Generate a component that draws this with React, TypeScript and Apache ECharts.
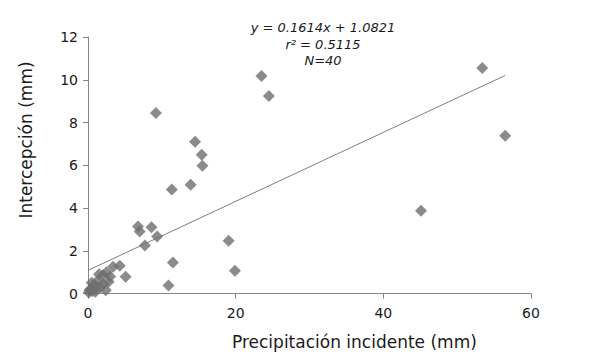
import React, { useEffect, useRef } from "react";
import * as echarts from "echarts";

const precipitation = [
  53.4, 56.5, 45.1, 23.5, 24.5, 9.2, 14.5, 15.4, 15.5, 13.9,
  11.35, 19.05, 19.9, 11.5, 10.9, 6.77, 7.0, 8.6, 9.36, 7.7,
  5.1, 4.3, 3.4, 2.5, 2.0, 1.3, 2.8, 0.8, 0.35, 2.4,
  0.1, 1.0, 1.7, 0.5, 1.5, 3.0, 0.2, 1.2, 0.6, 2.1,
];
const interception = [
  10.55, 7.38, 3.87, 10.18, 9.24, 8.45, 7.1, 6.49, 5.98, 5.09,
  4.86, 2.47, 1.07, 1.45, 0.37, 3.14, 2.9, 3.1, 2.67, 2.24,
  0.78, 1.3, 1.25, 1.0, 0.85, 0.6, 0.55, 0.4, 0.2, 0.15,
  0.05, 0.08, 0.3, 0.5, 0.9, 0.8, 0.15, 0.3, 0.1, 0.45,
];
const slope = 0.1614;
const intercept = 1.0821;
const equationLines = ["y = 0.1614x + 1.0821", "r² = 0.5115", "N=40"];
const xTitle = "Precipitación incidente (mm)";
const yTitle = "Intercepción (mm)";

const FONT = "'DejaVu Sans', Verdana, sans-serif";

export default function App() {
  const ref = useRef<HTMLDivElement>(null);
  useEffect(() => {
    if (!ref.current) return;
    const chart = echarts.init(ref.current, undefined, { renderer: "svg" });
    const points = precipitation.map((x, i) => [x, interception[i]]);
    const xMax = Math.max(...precipitation);
    chart.setOption({
      animation: false,
      backgroundColor: "#ffffff",
      grid: { left: 88, right: 70, top: 37, bottom: 67.5 },
      xAxis: {
        type: "value",
        min: 0,
        max: 60,
        interval: 20,
        splitLine: { show: false },
        axisLine: { show: true, onZero: false, lineStyle: { color: "#868686", width: 1 } },
        axisTick: { show: true, length: 5, lineStyle: { color: "#868686" } },
        axisLabel: { color: "#1a1a1a", fontSize: 14, fontFamily: FONT, margin: 12 },
      },
      yAxis: {
        type: "value",
        min: 0,
        max: 12,
        interval: 2,
        splitLine: { show: false },
        axisLine: { show: true, onZero: false, lineStyle: { color: "#868686", width: 1 } },
        axisTick: { show: true, length: 5, lineStyle: { color: "#868686" } },
        axisLabel: { color: "#1a1a1a", fontSize: 14, fontFamily: FONT, margin: 10 },
      },
      series: [
        {
          type: "line",
          data: [
            [0, intercept],
            [xMax, slope * xMax + intercept],
          ],
          symbol: "none",
          lineStyle: { color: "#7f7f7f", width: 1 },
          z: 1,
        },
        {
          type: "scatter",
          data: points,
          symbol: "diamond",
          symbolSize: 12,
          itemStyle: { color: "#6e6e6e" },
          z: 2,
        },
      ],
      graphic: [
        {
          type: "text",
          left: 355 - 123,
          top: 333,
          style: { text: xTitle, fontSize: 17, fontFamily: FONT, fill: "#1a1a1a" },
        },
        {
          type: "text",
          x: 26,
          y: 140,
          rotation: Math.PI / 2,
          style: {
            text: yTitle,
            fontSize: 17,
            fontFamily: FONT,
            fill: "#1a1a1a",
            align: "center",
            verticalAlign: "middle",
          },
        },
        ...equationLines.map((t, i) => ({
          type: "text",
          x: 323,
          y: [27, 44, 60][i],
          style: {
            text: t,
            fontSize: 13,
            fontStyle: "italic",
            fontFamily: FONT,
            fill: "#1a1a1a",
            align: "center",
            verticalAlign: "middle",
          },
        })),
      ],
    });
    return () => chart.dispose();
  }, []);
  return <div ref={ref} style={{ width: 601, height: 361, margin: -8 }} />;
}
